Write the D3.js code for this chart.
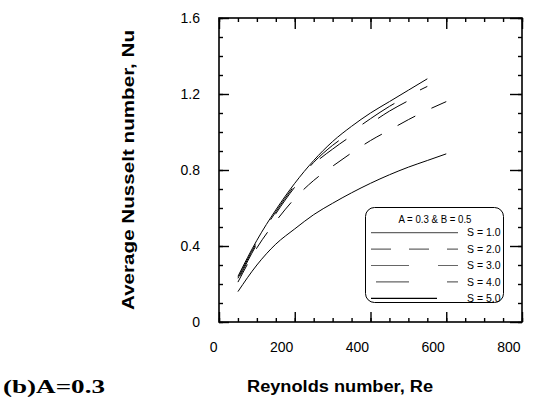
<!DOCTYPE html>
<html>
<head>
<meta charset="utf-8">
<script src="https://cdn.jsdelivr.net/npm/d3@7"></script>
<style>
  html, body { margin: 0; padding: 0; background: #fff; }
  svg { display: block; }
  text { font-family: "Liberation Sans", Arial, sans-serif; fill: #000; }
</style>
</head>
<body>
<svg id="chart" width="539" height="397"></svg>
<script>
// ---- data ----
const reynolds = [50, 100, 150, 200, 250, 300, 350, 400, 450, 500, 550, 600];
const nuS1 = [0.24, 0.43, 0.59, 0.73, 0.85, 0.95, 1.03, 1.10, 1.16, 1.22, 1.28];
const nuS2 = [0.21, 0.39, 0.53, 0.65, 0.745, 0.82, 0.89, 0.955, 1.01, 1.065, 1.115, 1.16];
const nuS3 = [0.23, 0.42, 0.58, 0.72, 0.84, 0.93, 1.00, 1.07, 1.135, 1.19, 1.24];
const nuS4 = [0.22, 0.41, 0.57, 0.71, 0.83, 0.91, 0.98, 1.045, 1.11, 1.165, 1.22];
const nuS5 = [0.16, 0.30, 0.41, 0.49, 0.565, 0.625, 0.68, 0.73, 0.775, 0.815, 0.85, 0.885];
const seriesLabels = ["S = 1.0", "S = 2.0", "S = 3.0", "S = 4.0", "S = 5.0"];
const xTickLabels = [0, 200, 400, 600, 800];
const yTickLabels = [0, 0.4, 0.8, 1.2, 1.6];
const legendTitle = "A = 0.3 & B = 0.5";
const xTitle = "Reynolds number, Re";
const yTitle = "Average Nusselt number, Nu";
const panelLabel = "(b)A=0.3";

// ---- styles ----
const dashes = [null, "20,18", "38,29", "33,38", null];
const dashOffsets = [0, 0, 0, 66, 0];
const legendColors = ["#666", "#666", "#666", "#666", "#000"];

const svg = d3.select("#chart");
const x = d3.scaleLinear().domain([0, 800]).range([219, 522]);
const y = d3.scaleLinear().domain([0, 1.6]).range([322, 18]);

const allSeries = [nuS1, nuS2, nuS3, nuS4, nuS5];

// axes: minor + major, ticks inward
function addAxis(axisFn, transform, values, size, withLabels, padding) {
  const g = svg.append("g").attr("transform", transform);
  const ax = axisFn.tickValues(values).tickSize(size).tickPadding(padding || 3);
  if (!withLabels) ax.tickFormat("");
  g.call(ax);
  g.select(".domain").remove();
  g.selectAll(".tick line").attr("stroke", "#000").attr("stroke-width", 1.4);
  return g;
}
const xMinor = d3.range(0, 801, 50);
const yMinor = d3.range(0, 16.01, 1).map(d => d / 10);

addAxis(d3.axisBottom(x), "translate(0,322)", xMinor, -4, false);
addAxis(d3.axisTop(x), "translate(0,18)", xMinor, -4, false);
addAxis(d3.axisLeft(y), "translate(219,0)", yMinor, -4, false);
addAxis(d3.axisRight(y), "translate(522,0)", yMinor, -4, false);

const xb = addAxis(d3.axisBottom(x), "translate(0,322)", xTickLabels, -10, true, 20);
xb.selectAll(".tick text").attr("text-anchor", "end").attr("dx", -2)
  .style("font-size", "14px").style("font-family", "Liberation Sans, Arial, sans-serif");
addAxis(d3.axisTop(x), "translate(0,18)", xTickLabels, -11, false);
const yl = addAxis(d3.axisLeft(y), "translate(219,0)", yTickLabels, -10, true, 19);
yl.selectAll(".tick text").text(d => d === 0 ? "0" : d3.format(".1f")(d))
  .style("font-size", "14px").style("font-family", "Liberation Sans, Arial, sans-serif");
addAxis(d3.axisRight(y), "translate(522,0)", yTickLabels, -12, false);

// frame
svg.append("rect")
  .attr("x", x(0)).attr("y", y(1.6))
  .attr("width", x(800) - x(0)).attr("height", y(0) - y(1.6))
  .attr("fill", "none").attr("stroke", "#000").attr("stroke-width", 1.6);

// curves
const line = d3.line()
  .x((d, i) => x(reynolds[i]))
  .y(d => y(d))
  .curve(d3.curveMonotoneX);

allSeries.forEach((s, i) => {
  svg.append("path")
    .datum(s)
    .attr("d", line)
    .attr("fill", "none")
    .attr("stroke", "#000")
    .attr("stroke-width", 1)
    .attr("stroke-dasharray", dashes[i])
    .attr("stroke-dashoffset", dashOffsets[i]);
});

// legend
const lg = svg.append("g");
lg.append("rect")
  .attr("x", 365.5).attr("y", 207.5).attr("width", 138).attr("height", 95)
  .attr("rx", 9).attr("ry", 9)
  .attr("fill", "#fff").attr("stroke", "#000").attr("stroke-width", 1);
lg.append("text")
  .attr("x", 435).attr("y", 223)
  .attr("text-anchor", "middle")
  .attr("textLength", 73).attr("lengthAdjust", "spacingAndGlyphs")
  .style("font-size", "10px")
  .text(legendTitle);
seriesLabels.forEach((lab, i) => {
  const yy = 232.7 + i * 16.4;
  lg.append("line")
    .attr("x1", 371).attr("x2", i === 4 ? 437 : 458)
    .attr("y1", yy).attr("y2", yy)
    .attr("stroke", legendColors[i]).attr("stroke-width", 1.2)
    .attr("stroke-dasharray", dashes[i])
    .attr("stroke-dashoffset", dashOffsets[i]);
  lg.append("text")
    .attr("x", 467).attr("y", yy + 3.6)
    .style("font-size", "10.5px")
    .text(lab);
});

// titles
svg.append("text")
  .attr("x", 340).attr("y", 392)
  .attr("text-anchor", "middle")
  .attr("textLength", 186).attr("lengthAdjust", "spacingAndGlyphs")
  .style("font-size", "16px").style("font-weight", "bold")
  .text(xTitle);

svg.append("text")
  .attr("transform", "translate(134,170) rotate(-90)")
  .attr("text-anchor", "middle")
  .attr("textLength", 280).attr("lengthAdjust", "spacingAndGlyphs")
  .style("font-size", "17px").style("font-weight", "bold")
  .text(yTitle);

svg.append("text")
  .attr("x", 3).attr("y", 393)
  .attr("textLength", 102).attr("lengthAdjust", "spacingAndGlyphs")
  .style("font-family", "Liberation Serif, Times New Roman, serif")
  .style("font-size", "19px").style("font-weight", "bold")
  .text(panelLabel);
</script>
</body>
</html>
